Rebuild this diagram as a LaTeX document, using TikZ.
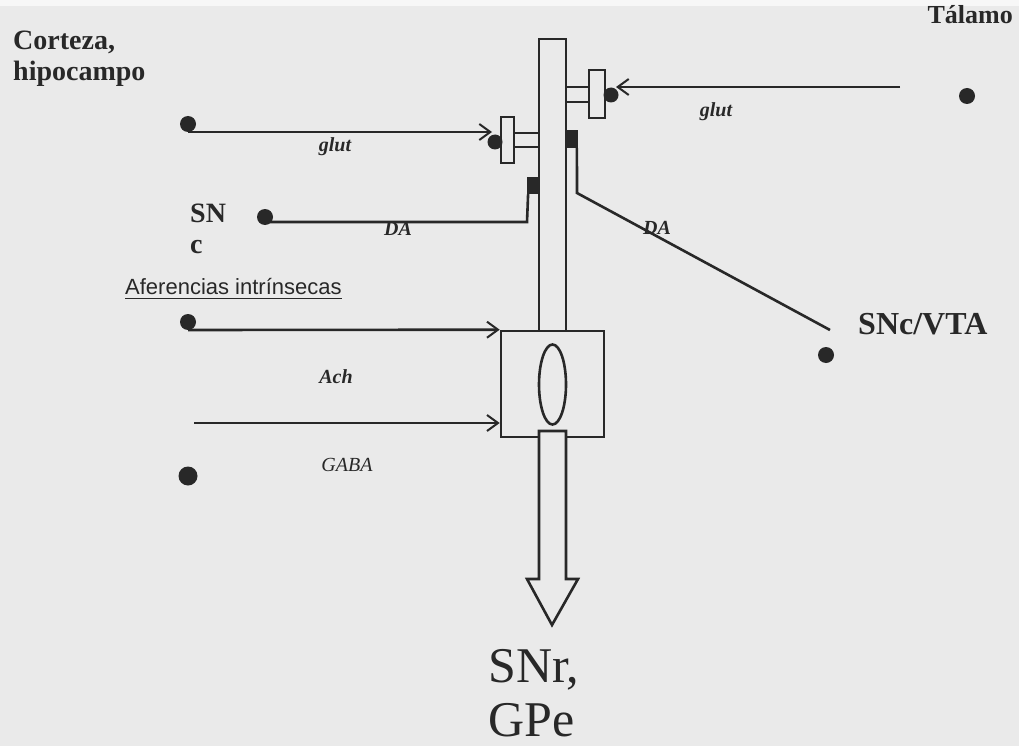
\documentclass[tikz,border=0pt]{standalone}
\usepackage{fontspec}
\setmainfont{Liberation Serif}
\newfontfamily\arialf{Liberation Sans}
\usetikzlibrary{arrows.meta}
\definecolor{bg}{RGB}{234,234,234}
\definecolor{ink}{RGB}{40,40,40}
\begin{document}
\begin{tikzpicture}[x=1pt,y=-1pt,
  ln/.style={draw=ink, line width=2.6pt},
  arr/.style={-{Straight Barb[length=11pt,width=16pt,line width=2pt]}},
  dot/.style={circle, fill=ink, inner sep=0pt, minimum size=16pt},
  boldlab/.style={font=\bfseries\fontsize{28}{28}\selectfont, text=ink, inner sep=0pt},
  inlab/.style={font=\bfseries\itshape\fontsize{20}{20}\selectfont, text=ink, inner sep=0pt},
  synbox/.style={draw=ink, line width=2.6pt, fill=bg, inner sep=0pt},
  term/.style={fill=ink, inner sep=0pt}
]
% background
\fill[bg] (0,0) rectangle (1019,746);
\fill[white!60!bg] (0,0) rectangle (1019,6);
\useasboundingbox (0,0) rectangle (1019,746);

% labels
\node[boldlab, anchor=base west] (cort) at (13,50) {Corteza,};
\node[boldlab, anchor=base west] (hipo) at (13,81) {hipocampo};
\node[boldlab, font=\bfseries\fontsize{26}{26}\selectfont, anchor=base east] (tal) at (1013,24) {Tálamo};
\node[boldlab, anchor=base west] (sn) at (190,222) {SN};
\node[boldlab, anchor=base west] (snc) at (190,253) {c};
\node[boldlab, font=\bfseries\fontsize{32}{32}\selectfont, anchor=base west] (vta) at (858,334) {SNc/VTA};
\node[anchor=base west, inner sep=0pt, text=ink, font=\arialf\fontsize{22}{22}\selectfont] (afe) at (125,294) {Aferencias intrínsecas};
\draw[ink, line width=1.8pt] ([yshift=-4.5pt]afe.base west) -- ([yshift=-4.5pt]afe.base east);
\node[anchor=base west, inner sep=0pt, text=ink, font=\fontsize{50}{50}\selectfont] (snr) at (488,682) {SNr,};
\node[anchor=base west, inner sep=0pt, text=ink, font=\fontsize{50}{50}\selectfont] (gpe) at (488,736) {GPe};

% dots
\node[dot] (dCort) at (188,124) {};
\node[dot] (dTal) at (967,96) {};
\node[dot] (dSNc) at (265,217) {};
\node[dot] (dVTA) at (826,355) {};
\node[dot] (dAf) at (188,322) {};
\node[dot, minimum height=19pt] (dGaba) at (188,476) {};

% central tube
\draw[ln] (539,331) -- (539,39) -- (566,39) -- (566,331);
% box with ellipse
\node[draw=ink, line width=2.6pt, minimum width=103pt, minimum height=106pt, inner sep=0pt] (box) at (552.5,384) {};
\draw[ln] (552.5,384.5) ellipse (13.5 and 40);
% output arrow
\draw[ln, fill=bg, line join=miter] (539,431) -- (539,579) -- (527,579) -- (552,625) -- (578,579) -- (566,579) -- (566,431) -- cycle;

% right synapse (Talamo)
\draw[ln] (566,87) -- (589,87);
\draw[ln] (566,102) -- (589,102);
\node[synbox, minimum width=16pt, minimum height=48pt] (synR) at (597,94) {};
\node[dot, minimum size=15pt] (dSynR) at (611,95) {};
\coordinate (talS) at (900,87);
\coordinate (talE) at (616,87);
\draw[ln, arr] (talS) -- (talE);

% left synapse (Corteza)
\draw[ln] (514,133) -- (539,133);
\draw[ln] (514,147) -- (539,147);
\node[synbox, minimum width=13pt, minimum height=46pt] (synL) at (507.5,140) {};
\node[dot, minimum size=15pt] (dSynL) at (495,142) {};
\coordinate (cortS) at (188,132);
\coordinate (cortE) at (492,132);
\draw[ln, arr] (cortS) -- (cortE);

% DA terminals
\node[term, minimum width=13pt, minimum height=18pt] (termR) at (571.5,139) {};
\node[term, minimum width=11pt, minimum height=17pt] (termL) at (532.5,185.5) {};
\coordinate (daR1) at (577,193);
\draw[ln] (termR.south east) ++(-1.3,0) -- (daR1) -- (830,330) coordinate (daR2);
\coordinate (daL1) at (527,222);
\draw[ln] (termL.south west) ++(1.3,0) -- (daL1) -- (dSNc.center |- daL1);

% afferents into box
\coordinate (achS) at (188,330);
\draw[ln, arr] (achS) -- (box.north west);
\coordinate (gabS) at (194,423);
\draw[ln, arr] (gabS) -- (box.west |- gabS);

% small labels
\node[inlab] (glutL) at (335,147) {glut};
\node[inlab] (glutR) at (716,112) {glut};
\node[inlab] (daL) at (398,229) {DA};
\node[inlab] (daR) at (657,228) {DA};
\node[inlab] (ach) at (336,377) {Ach};
\node[inlab, font=\itshape\fontsize{20}{20}\selectfont] (gaba) at (347,465) {GABA};
\end{tikzpicture}
\end{document}
